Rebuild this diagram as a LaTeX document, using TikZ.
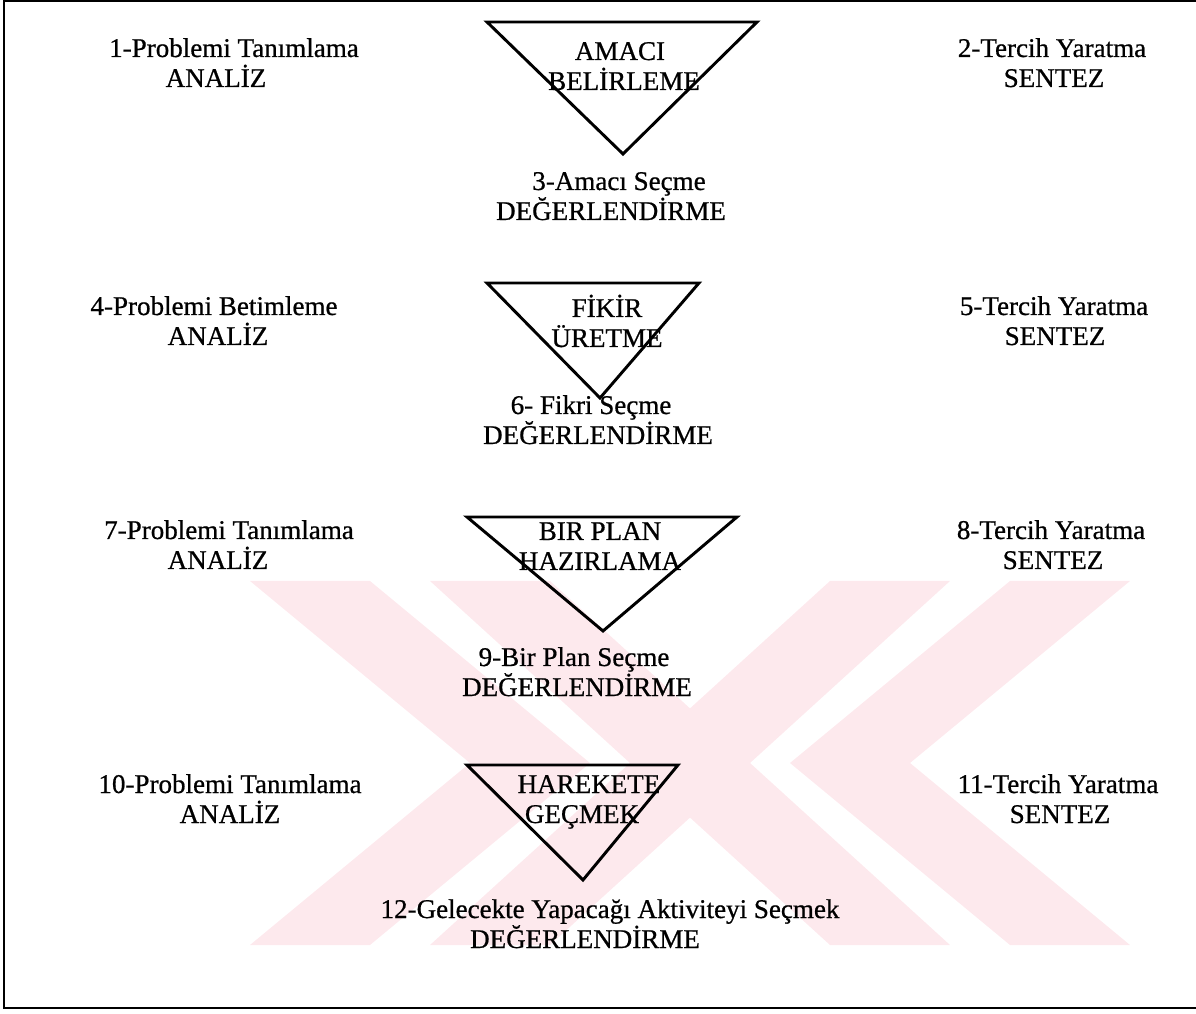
\documentclass[tikz,border=0pt]{standalone}
\usepackage{fontspec}
\setmainfont[FakeBold=0.7]{Liberation Serif}
\definecolor{yokpink}{RGB}{253,233,237}
\tikzset{
  lbl/.style={anchor=base, inner sep=0pt, font=\fontsize{12}{14}\selectfont},
  tri/.style={line width=1.3pt, line join=miter},
  frame/.style={line width=1pt}
}
% two lines of text: name, x of line 1, baseline y, text 1, x of line 2, text 2
\newcommand{\twoline}[6]{%
  \node[lbl] (#1a) at (#2,#3) {#4};
  \node[lbl] (#1b) at (#5,#3+30) {#6};}
% watermark chevron: left x at top, shift at the middle, stripe width
\newcommand{\chevron}[3]{%
  \fill[yokpink] (#1,581) -- ++(#3,0) -- ({#1+#3+#2},763) -- ({#1+#3},945)
    -- (#1,945) -- ({#1+#2},763) -- cycle;}

\begin{document}
\begin{tikzpicture}[x=0.444pt, y=-0.444pt]
    \useasboundingbox (0,0) rectangle (1196,1014);
    % watermark
    \begin{scope}
      \clip (0,581) rectangle (1196,945);
      \chevron{250}{220}{120}
      \chevron{1010}{-220}{120}
      \fill[yokpink] (430,581) -- (550,581) -- (950,945) -- (830,945) -- cycle;
      \fill[yokpink] (830,581) -- (950,581) -- (550,945) -- (430,945) -- cycle;
    \end{scope}
    % frame
    \draw[frame] (1196,1) -- (4,1) -- (4,1008) -- (1196,1008);
    % triangles
    \draw[tri] (487,22) -- (757,22) -- (623,154) -- cycle;
    \draw[tri] (487,283) -- (699,283) -- (600,398) -- cycle;
    \draw[tri] (467,517) -- (737,517) -- (603,631) -- cycle;
    \draw[tri] (467,765) -- (678,765) -- (583,880) -- cycle;
    % row 1
    \twoline{p1}{234}{57}{1-Problemi Tanımlama}{216}{ANALİZ}
    \twoline{t1}{620}{60}{AMACI}{624}{BELİRLEME}
    \twoline{s2}{1052}{57}{2-Tercih Yaratma}{1054}{SENTEZ}
    \twoline{d3}{619}{190}{3-Amacı Seçme}{611}{DEĞERLENDİRME}
    % row 2
    \twoline{p4}{214}{315}{4-Problemi Betimleme}{218}{ANALİZ}
    \twoline{t2}{607}{317}{FİKİR}{607}{ÜRETME}
    \twoline{s5}{1054}{315}{5-Tercih Yaratma}{1055}{SENTEZ}
    \twoline{d6}{591}{414}{6- Fikri Seçme}{598}{DEĞERLENDİRME}
    % row 3
    \twoline{p7}{229}{539}{7-Problemi Tanımlama}{218}{ANALİZ}
    \twoline{t3}{600}{540}{BIR PLAN}{600}{HAZIRLAMA}
    \twoline{s8}{1051}{539}{8-Tercih Yaratma}{1053}{SENTEZ}
    \twoline{d9}{574}{666}{9-Bir Plan Seçme}{577}{DEĞERLENDİRME}
    % row 4
    \twoline{p10}{230}{793}{10-Problemi Tanımlama}{230}{ANALİZ}
    \twoline{t4}{589}{793}{HAREKETE}{582}{GEÇMEK}
    \twoline{s11}{1058}{793}{11-Tercih Yaratma}{1060}{SENTEZ}
    \twoline{d12}{610}{918}{12-Gelecekte Yapacağı Aktiviteyi Seçmek}{585}{DEĞERLENDİRME}
\end{tikzpicture}
\end{document}
